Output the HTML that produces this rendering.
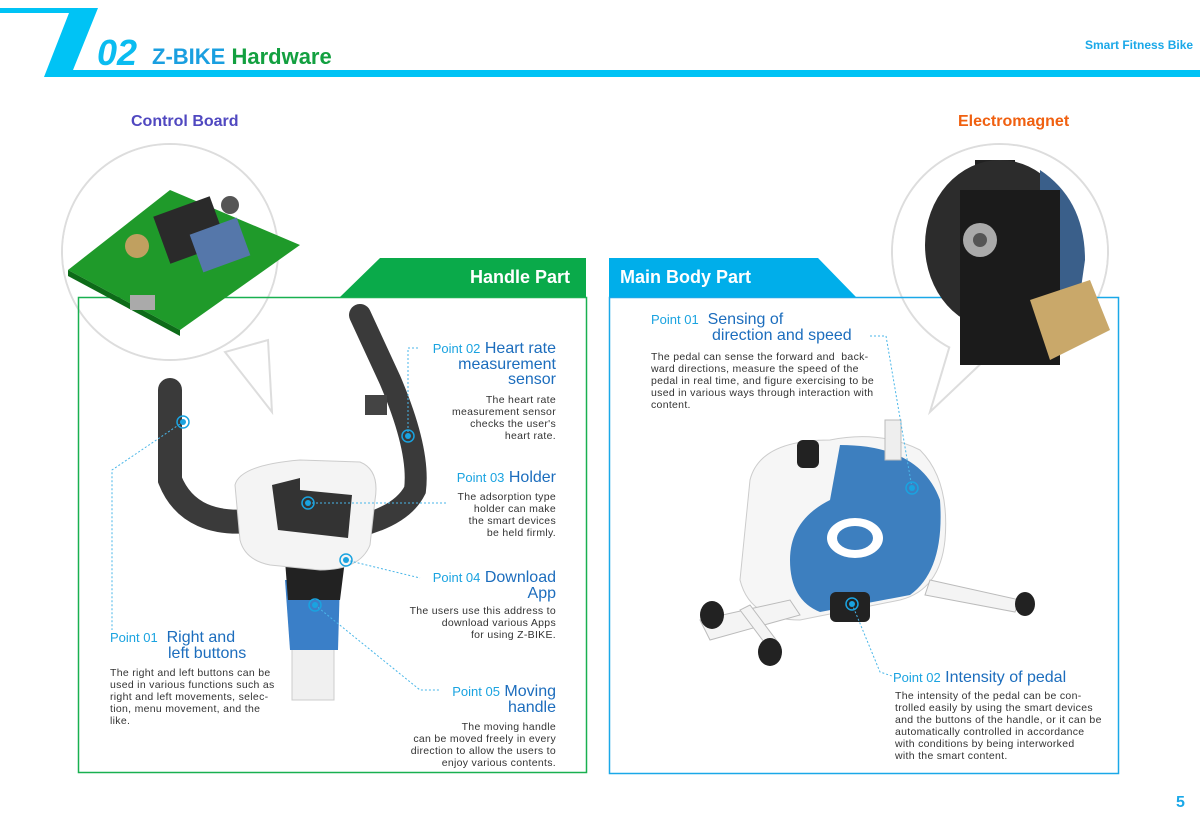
<!DOCTYPE html>
<html><head><meta charset="utf-8"><style>
body{margin:0;width:1200px;height:831px;background:#fff;position:relative;overflow:hidden;font-family:"Liberation Sans","DejaVu Sans",sans-serif}
.a{position:absolute}
.pt{color:#1aa3e0;font-size:13px}
.tt{color:#1c6dbd;font-size:16px}
.h{line-height:15.5px}
.b{font-size:10.5px;line-height:12px;color:#333;letter-spacing:0.3px;white-space:nowrap}
.r{text-align:right}
</style></head><body>
<svg class="a" style="left:0;top:0" width="1200" height="831">
<polygon points="0,8 98,8 73,70 1200,70 1200,77 44,77 69,13 0,13" fill="#00c3f5"/>
<circle cx="170" cy="252" r="108" fill="#fff" stroke="#ddd" stroke-width="2"/>
<polygon points="225,352 272,412 268,340" fill="#fff" stroke="#ddd" stroke-width="2"/>
<circle cx="1000" cy="252" r="108" fill="#fff" stroke="#ddd" stroke-width="2"/>
<polygon points="950,345 930,412 990,355" fill="#fff" stroke="#ddd" stroke-width="2"/>
<circle cx="170" cy="252" r="107" fill="#fff"/>
<circle cx="1000" cy="252" r="107" fill="#fff"/>
<rect x="78.5" y="297.5" width="508" height="475" fill="none" stroke="#19b050" stroke-width="1.5"/>
<polygon points="340,297 380,258 586,258 586,297" fill="#0aaa4a"/>
<rect x="609.5" y="297.5" width="509" height="476" fill="none" stroke="#1aa8e8" stroke-width="1.5"/>
<polygon points="609,258 818,258 856,297 609,297" fill="#00aeea"/>
<polygon points="68,270 170,190 300,245 180,330" fill="#1f9a2a"/>
<polygon points="68,270 180,330 180,336 68,276" fill="#0d6b18"/>
<rect x="160" y="205" width="60" height="50" fill="#2a2a2a" transform="rotate(-20 190 230)"/>
<rect x="195" y="225" width="50" height="40" fill="#5577aa" transform="rotate(-20 220 245)"/>
<circle cx="137" cy="246" r="12" fill="#c0a060"/>
<circle cx="230" cy="205" r="9" fill="#555"/>
<rect x="130" y="295" width="25" height="15" fill="#aaa"/>
<rect x="975" y="160" width="40" height="50" fill="#222"/>
<ellipse cx="1000" cy="245" rx="75" ry="85" fill="#2c2c2c"/>
<path d="M1040 170 Q1085 200 1085 260 L1075 330 L1040 300Z" fill="#3a5f8a"/>
<rect x="960" y="190" width="100" height="175" fill="#1b1b1b"/>
<circle cx="980" cy="240" r="17" fill="#aaa"/><circle cx="980" cy="240" r="7" fill="#555"/>
<polygon points="1030,300 1090,280 1110,330 1050,360" fill="#c9a86a"/>
<path d="M360 315 L390 380 Q420 450 415 490 Q400 520 340 530 L290 532" fill="none" stroke="#3a3a3a" stroke-width="22" stroke-linecap="round"/>
<path d="M260 520 Q190 530 170 480 L170 390" fill="none" stroke="#3a3a3a" stroke-width="24" stroke-linecap="round"/>
<rect x="292" y="610" width="42" height="90" fill="#f0f0f0" stroke="#ccc"/>
<path d="M285 580 L340 580 L338 650 L290 650Z" fill="#3a7fc8"/>
<path d="M285 560 Q312 540 345 560 L340 600 L288 600Z" fill="#222"/>
<path d="M235 485 Q240 465 300 460 L360 462 Q380 470 375 500 L370 545 Q360 570 320 570 L270 565 Q245 560 240 540Z" fill="#f4f4f4" stroke="#ccc"/>
<polygon points="272,485 300,478 300,490 352,495 348,538 278,530" fill="#333"/>
<rect x="365" y="395" width="22" height="20" fill="#444"/>
<path d="M750 480 Q760 440 830 440 Q880 430 920 450 Q950 480 945 540 Q940 590 900 600 L800 620 Q750 620 740 580Z" fill="#f6f6f6" stroke="#ccc"/>
<path d="M840 445 Q920 445 940 500 Q945 570 910 595 L820 612 Q790 600 790 560 Q790 520 830 500Z" fill="#3d7fbf"/>
<ellipse cx="855" cy="538" rx="28" ry="20" fill="#fff"/>
<ellipse cx="855" cy="538" rx="18" ry="12" fill="#3d7fbf"/>
<path d="M700 620 L790 600 L800 615 L710 640Z" fill="#f4f4f4" stroke="#bbb"/>
<path d="M930 580 L1020 600 L1015 612 L925 595Z" fill="#f4f4f4" stroke="#bbb"/>
<path d="M740 610 L770 650 L780 645 L750 605Z" fill="#f4f4f4" stroke="#bbb"/>
<ellipse cx="712" cy="615" rx="12" ry="14" fill="#222"/>
<ellipse cx="770" cy="652" rx="12" ry="14" fill="#222"/>
<ellipse cx="1025" cy="604" rx="10" ry="12" fill="#222"/>
<rect x="830" y="592" width="40" height="30" rx="6" fill="#222"/>
<rect x="797" y="440" width="22" height="28" rx="6" fill="#222"/>
<rect x="885" y="420" width="16" height="40" fill="#eee" stroke="#bbb"/>
<g stroke="#49b6e8" stroke-dasharray="2 2" fill="none" stroke-width="1">
<path d="M183 422 L112 470 L112 630"/>
<path d="M418 348 L408 348 L408 436"/>
<path d="M308 503 L446 503"/>
<path d="M346 560 L420 578"/>
<path d="M315 605 L420 690 L440 690"/>
<path d="M870 336 L886 336 L912 488"/>
<path d="M852 604 L880 672 L892 676"/>
</g>
<g fill="none" stroke="#1aa3e0" stroke-width="1.5">
<circle cx="183" cy="422" r="6"/><circle cx="408" cy="436" r="6"/><circle cx="308" cy="503" r="6"/><circle cx="346" cy="560" r="6"/><circle cx="315" cy="605" r="6"/><circle cx="912" cy="488" r="6"/><circle cx="852" cy="604" r="6"/>
</g>
<g fill="#1aa3e0"><circle cx="183" cy="422" r="3"/><circle cx="408" cy="436" r="3"/><circle cx="308" cy="503" r="3"/><circle cx="346" cy="560" r="3"/><circle cx="315" cy="605" r="3"/><circle cx="912" cy="488" r="3"/><circle cx="852" cy="604" r="3"/></g>
</svg>

<div class="a" style="left:97px;top:32px;font-size:36px;font-style:italic;font-weight:bold;color:#0bbcf0">02</div>
<div class="a" style="left:152px;top:44px;font-size:22px;font-weight:bold;color:#1a9fe0">Z-BIKE <span style="color:#13a040">Hardware</span></div>
<div class="a" style="left:1085px;top:38px;font-size:12px;font-weight:bold;color:#1aa8e8">Smart Fitness Bike</div>
<div class="a" style="left:131px;top:113px;font-size:16px;font-weight:bold;color:#5048c0">Control Board</div>
<div class="a" style="left:958px;top:113px;font-size:16px;font-weight:bold;color:#f06010">Electromagnet</div>
<div class="a" style="left:470px;top:267px;font-size:18px;font-weight:bold;color:#fff">Handle Part</div>
<div class="a" style="left:620px;top:267px;font-size:18px;font-weight:bold;color:#fff">Main Body Part</div>
<div class="a" style="left:1176px;top:794px;font-size:16px;font-weight:bold;color:#1aa8e8">5</div>

<div class="a r h" style="left:400px;top:341px;width:156px"><span class="pt">Point 02</span> <span class="tt">Heart rate<br>measurement<br>sensor</span></div>
<div class="a r b" style="left:380px;top:394px;width:176px">The heart rate<br>measurement sensor<br>checks the user's<br>heart rate.</div>

<div class="a r h" style="left:400px;top:470px;width:156px"><span class="pt">Point 03</span> <span class="tt">Holder</span></div>
<div class="a r b" style="left:380px;top:491px;width:176px">The adsorption type<br>holder can make<br>the smart devices<br>be held firmly.</div>

<div class="a r h" style="left:400px;top:570px;width:156px"><span class="pt">Point 04</span> <span class="tt">Download<br>App</span></div>
<div class="a r b" style="left:380px;top:605px;width:176px">The users use this address to<br>download various Apps<br>for using Z-BIKE.</div>

<div class="a r h" style="left:400px;top:684px;width:156px"><span class="pt">Point 05</span> <span class="tt">Moving<br>handle</span></div>
<div class="a r b" style="left:380px;top:721px;width:176px">The moving handle<br>can be moved freely in every<br>direction to allow the users to<br>enjoy various contents.</div>

<div class="a h" style="left:110px;top:630px;width:200px"><span class="pt">Point 01</span>&nbsp; <span class="tt">Right and</span><br><span class="tt" style="padding-left:58px">left buttons</span></div>
<div class="a b" style="left:110px;top:667px;">The right and left buttons can be<br>used in various functions such as<br>right and left movements, selec-<br>tion, menu movement, and the<br>like.</div>

<div class="a h" style="left:651px;top:312px;width:230px"><span class="pt">Point 01</span>&nbsp; <span class="tt">Sensing of</span><br><span class="tt" style="padding-left:61px">direction and speed</span></div>
<div class="a b" style="left:651px;top:351px;">The pedal can sense the forward and &nbsp;back-<br>ward directions, measure the speed of the<br>pedal in real time, and figure exercising to be<br>used in various ways through interaction with<br>content.</div>

<div class="a h" style="left:893px;top:670px;width:220px"><span class="pt">Point 02</span> <span class="tt">Intensity of pedal</span></div>
<div class="a b" style="left:895px;top:690px;">The intensity of the pedal can be con-<br>trolled easily by using the smart devices<br>and the buttons of the handle, or it can be<br>automatically controlled in accordance<br>with conditions by being interworked<br>with the smart content.</div>
</body></html>
